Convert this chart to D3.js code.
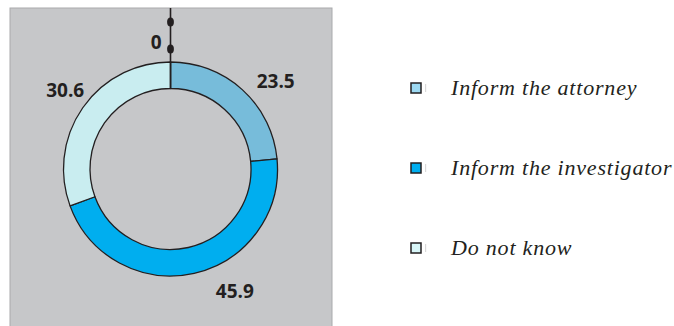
<!DOCTYPE html>
<html><head><meta charset="utf-8">
<script src="https://cdn.jsdelivr.net/npm/d3@7"></script>
<style>html,body{margin:0;padding:0;background:#fff;}svg{display:block;}
.lg{font-family:"Liberation Serif","Times New Roman",Times,serif;font-style:italic;letter-spacing:0.8px;}
.num{font-family:"Open Sans","DejaVu Sans",sans-serif;font-weight:700;}</style>
</head><body>
<svg id="c" width="674" height="326"></svg>
<script>
const categories = ["Inform the attorney", "Inform the investigator", "Do not know", "Other"];
const values = [23.5, 45.9, 30.6, 0];
const valueLabels = ["23.5", "45.9", "30.6", "0"];
const legendCategories = ["Inform the attorney", "Inform the investigator", "Do not know"];

const sliceColors = ["#77bcda", "#00aeef", "#c9edf0", "#c9edf0"];
const legendColors = ["#9dd9f2", "#00aeef", "#d8f6f8"];
const labelNudge = [[13, 14], [34, -11], [7, 0]];

const svg = d3.select("#c");
const cx = 170.5, cy = 169, rOut = 107, rIn = 80.5;

svg.append("rect").attr("x", 10).attr("y", 8).attr("width", 322).attr("height", 330)
  .attr("fill", "#c6c7c9").attr("stroke", "#a9aaac").attr("stroke-width", 1);

const data = categories.map((c, i) => ({cat: c, value: values[i], label: valueLabels[i], i}));
const pie = d3.pie().value(d => d.value).sort(null);
const arcs = pie(data);
const arc = d3.arc().innerRadius(rIn).outerRadius(rOut);
const labelArc = d3.arc().innerRadius(137).outerRadius(137);

const g = svg.append("g").attr("transform", `translate(${cx},${cy})`);
g.selectAll("path").data(arcs.filter(a => a.data.value > 0)).join("path")
  .attr("d", arc).attr("fill", d => sliceColors[d.data.i])
  .attr("stroke", "#231f20").attr("stroke-width", 1.3).attr("stroke-linejoin", "round");

// zero-value slice leader
const zero = arcs.find(a => a.data.value === 0);
const za = zero.startAngle;
const yTop = 8 - cy;
g.append("line")
  .attr("x1", rIn * Math.sin(za)).attr("y1", -rIn * Math.cos(za))
  .attr("x2", 0).attr("y2", yTop)
  .attr("stroke", "#231f20").attr("stroke-width", 1.6);
[22, 49].forEach(y => {
  g.append("ellipse").attr("cx", 0).attr("cy", y - cy).attr("rx", 3.4).attr("ry", 4.6).attr("fill", "#231f20");
});
g.append("text").attr("class", "num").attr("x", -9).attr("y", 49 - cy).attr("text-anchor", "end")
  .attr("font-size", 19).attr("fill", "#231f20").text(zero.data.label);

arcs.filter(a => a.data.value > 0).forEach(a => {
  const [x, y] = labelArc.centroid(a);
  const n = labelNudge[a.data.i];
  g.append("text").attr("class", "num").attr("x", x + n[0]).attr("y", y + n[1]).attr("dy", "0.35em")
    .attr("text-anchor", "middle").attr("font-size", 19)
    .attr("fill", "#231f20").text(a.data.label);
});

// legend
const ly = d3.scalePoint().domain(legendCategories).range([88, 248]);
const lg = svg.append("g");
legendCategories.forEach((c, i) => {
  const y = ly(c);
  lg.append("rect").attr("x", 411).attr("y", y - 5).attr("width", 10).attr("height", 10)
    .attr("fill", legendColors[i]).attr("stroke", "#231f20").attr("stroke-width", 1.5);
  lg.append("rect").attr("x", 425).attr("y", y - 4).attr("width", 1.2).attr("height", 8)
    .attr("fill", "#d9d9d9");
  lg.append("text").attr("class", "lg").attr("x", 451).attr("y", y + 6.5)
    .attr("font-size", 22).attr("fill", "#231f20").text(c);
});
</script>
</body></html>
